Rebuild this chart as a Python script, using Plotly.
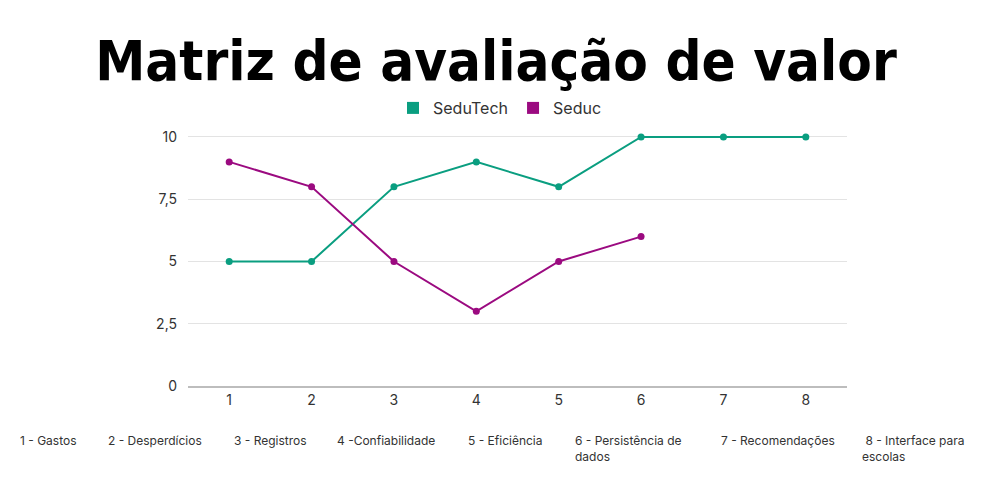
import plotly.graph_objects as go

categories = [1, 2, 3, 4, 5, 6, 7, 8]
sedutech = [5, 5, 8, 9, 8, 10, 10, 10]
seduc = [9, 8, 5, 3, 5, 6, None, None]
y_tickvals = [0, 2.5, 5, 7.5, 10]
y_ticktext = ["0", "2,5", "5", "7,5", "10"]
category_labels = ["1 - Gastos", "2 - Desperdícios", "3 - Registros", "4 -Confiabilidade",
                   "5 - Eficiência", "6 - Persistência de<br>dados", "7 - Recomendações",
                   " 8 - Interface para<br>escolas"]
label_px = [18, 106, 232, 335, 466, 573, 719, 860]

TEAL = "#0a9e80"
MAG = "#9b0a80"
FONT = "Inter, Roboto, sans-serif"

L, R, T, B = 188, 153, 135, 114
PW = 1000 - L - R
PH = 500 - T - B

fig = go.Figure()
fig.add_trace(go.Scatter(x=categories, y=sedutech, mode="lines+markers", name="SeduTech",
                         line=dict(color=TEAL, width=2), marker=dict(size=7, color=TEAL),
                         showlegend=False, cliponaxis=False))
fig.add_trace(go.Scatter(x=categories, y=seduc, mode="lines+markers", name="Seduc",
                         line=dict(color=MAG, width=2), marker=dict(size=7, color=MAG),
                         showlegend=False, cliponaxis=False))
fig.add_trace(go.Scatter(x=[None], y=[None], mode="markers", name="SeduTech",
                         marker=dict(symbol="square", size=8, color=TEAL)))
fig.add_trace(go.Scatter(x=[None], y=[None], mode="markers", name="Seduc",
                         marker=dict(symbol="square", size=8, color=MAG)))

annotations = []
for txt, px in zip(category_labels, label_px):
    annotations.append(dict(text=txt, x=(px - L) / PW, y=(T + PH - 431) / PH,
                            xref="paper", yref="paper", xanchor="left", yanchor="top",
                            align="left", showarrow=False,
                            font=dict(family=FONT, size=12, color="#333333")))

fig.update_layout(
    width=1000, height=500,
    margin=dict(l=L, r=R, t=T, b=B, autoexpand=False),
    paper_bgcolor="white", plot_bgcolor="white",
    title=dict(text="<b>Matriz de avaliação de valor</b>", x=0.496, xanchor="center",
               xref="container", y=0.88, yref="container", yanchor="middle",
               font=dict(family="DejaVu Sans Condensed, sans-serif",
                         size=56, color="black")),
    legend=dict(orientation="h", x=0.5, xref="container", xanchor="center",
                y=(500 - 108) / 500, yref="container", yanchor="middle",
                font=dict(family=FONT, size=16, color="#333333"),
                itemsizing="constant", itemwidth=30, tracegroupgap=0),
    xaxis=dict(range=[0.5, 8.5], tickvals=categories, showgrid=False, zeroline=False,
               showline=True, linecolor="#bdbdbd", linewidth=1.5,
               tickfont=dict(family=FONT, size=14, color="#333333"), ticks=""),
    yaxis=dict(range=[0, 10.08], tickvals=y_tickvals, ticktext=y_ticktext,
               showgrid=True, gridcolor="#e3e3e3", gridwidth=1, zeroline=False,
               showline=False, ticklabelstandoff=10,
               tickfont=dict(family=FONT, size=14, color="#333333"), ticks=""),
    annotations=annotations,
)

fig.write_html("out.html")
